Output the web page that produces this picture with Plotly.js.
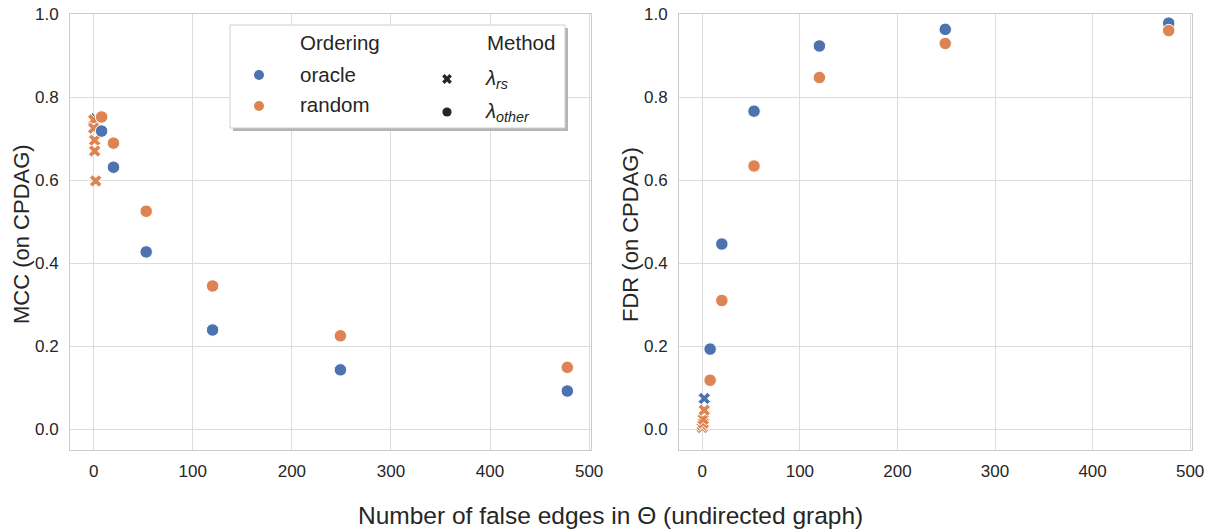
<!DOCTYPE html>
<html>
<head>
<meta charset="utf-8">
<script src="https://cdn.plot.ly/plotly-3.0.1.min.js"></script>
<style>html,body{margin:0;padding:0;background:#fff;}#chart{width:1219px;height:531px;}</style>
</head>
<body>
<div id="chart"></div>
<script>
// ---- data ----
const falseEdges = [8, 20, 53, 120, 249, 478];
const mccOracle = [0.718, 0.631, 0.427, 0.239, 0.143, 0.092];
const mccRandom = [0.752, 0.689, 0.525, 0.345, 0.225, 0.149];
const fdrOracle = [0.193, 0.446, 0.766, 0.923, 0.963, 0.978];
const fdrRandom = [0.118, 0.310, 0.634, 0.847, 0.929, 0.960];

const rsEdgesOracle = [2];
const mccRsOracle = [0.748];
const fdrRsOracle = [0.074];
const rsEdgesRandom = [0, 0, 1, 1, 2];
const mccRsRandom = [0.745, 0.725, 0.696, 0.670, 0.598];
const fdrRsRandom = [0.004, 0.010, 0.015, 0.024, 0.046];

const xTicks = [0, 100, 200, 300, 400, 500];
const yTicks = [0.0, 0.2, 0.4, 0.6, 0.8, 1.0];

const orderingLabels = ['oracle', 'random'];
const methodLabels = ['<i>λ</i><sub><i>rs</i></sub>', '<i>λ</i><sub><i>other</i></sub>'];

// ---- styles ----
const BLUE = '#4C72B0', ORANGE = '#DD8452', TXT = '#262626';
const W = 1219, H = 531;
const FONT = 'Liberation Sans, Arial, sans-serif';

function cross(x, y, color, xa, ya) {
  return {x: x, y: y, xaxis: xa, yaxis: ya, type: 'scatter', mode: 'markers', showlegend: false,
    marker: {symbol: 'x', size: 11, color: color, line: {color: '#ffffff', width: 1}}};
}
function dots(x, y, color, xa, ya) {
  return {x: x, y: y, xaxis: xa, yaxis: ya, type: 'scatter', mode: 'markers', showlegend: false,
    marker: {symbol: 'circle', size: 12.5, color: color, line: {color: '#ffffff', width: 1}}};
}

const traces = [
  cross(rsEdgesOracle, mccRsOracle, BLUE, 'x', 'y'),
  cross(rsEdgesRandom, mccRsRandom, ORANGE, 'x', 'y'),
  dots(falseEdges, mccOracle, BLUE, 'x', 'y'),
  dots(falseEdges, mccRandom, ORANGE, 'x', 'y'),
  cross(rsEdgesOracle, fdrRsOracle, BLUE, 'x2', 'y2'),
  cross(rsEdgesRandom, fdrRsRandom, ORANGE, 'x2', 'y2'),
  dots(falseEdges, fdrOracle, BLUE, 'x2', 'y2'),
  dots(falseEdges, fdrRandom, ORANGE, 'x2', 'y2')
];

const px = v => v / W;
const py = v => 1 - v / H;

function xAxis(d0, d1, anchor) {
  return {domain: [px(d0), px(d1)], range: [-23.9, 501.9], anchor: anchor,
    tickvals: xTicks, ticks: '', ticklabelstandoff: 6,
    showgrid: true, gridcolor: '#dcdcdc', gridwidth: 1, zeroline: false,
    showline: true, linecolor: '#cccccc', linewidth: 1, mirror: true,
    tickfont: {family: FONT, size: 17, color: TXT}};
}
function yAxis(anchor) {
  return {domain: [py(450), py(14)], range: [-0.05, 1.0], anchor: anchor,
    tickvals: yTicks, tickformat: '.1f', ticks: '', ticklabelstandoff: 7,
    showgrid: true, gridcolor: '#dcdcdc', gridwidth: 1, zeroline: false,
    showline: true, linecolor: '#cccccc', linewidth: 1, mirror: true,
    tickfont: {family: FONT, size: 17, color: TXT}};
}

// legend cross path (pixel-sized)
function crossPath(L, t) {
  const pts = [[t,t],[t,L],[-t,L],[-t,t],[-L,t],[-L,-t],[-t,-t],[-t,-L],[t,-L],[t,-t],[L,-t],[L,t]];
  const r = pts.map(([x, y]) => [(x - y) / Math.SQRT2, (x + y) / Math.SQRT2]);
  return 'M' + r.map(p => p[0].toFixed(2) + ',' + p[1].toFixed(2)).join('L') + 'Z';
}
function dotShape(cx, cy, r, color) {
  return {type: 'circle', xref: 'paper', yref: 'paper', xsizemode: 'pixel', ysizemode: 'pixel',
    xanchor: px(cx), yanchor: py(cy), x0: -r, x1: r, y0: -r, y1: r,
    fillcolor: color, line: {width: 0}, layer: 'above'};
}

const shapes = [
  {type: 'rect', xref: 'paper', yref: 'paper', x0: px(233), x1: px(568), y0: py(131), y1: py(28),
   fillcolor: '#b5b5b5', line: {width: 0}, layer: 'above'},
  {type: 'rect', xref: 'paper', yref: 'paper', x0: px(230), x1: px(565), y0: py(128), y1: py(25),
   fillcolor: '#ffffff', line: {color: '#d0d0d0', width: 1}, layer: 'above'},
  dotShape(259, 75, 5, BLUE),
  dotShape(259, 106, 5, ORANGE),
  {type: 'path', xref: 'paper', yref: 'paper', xsizemode: 'pixel', ysizemode: 'pixel',
   xanchor: px(447), yanchor: py(79), path: crossPath(5.2, 1.7),
   fillcolor: TXT, line: {width: 0}, layer: 'above'},
  dotShape(447, 112, 4.6, TXT)
];

function txt(text, x, y, size, extra) {
  return Object.assign({text: text, xref: 'paper', yref: 'paper', x: px(x), y: py(y),
    xanchor: 'left', yanchor: 'middle', showarrow: false,
    font: {family: FONT, size: size, color: TXT}}, extra || {});
}

const annotations = [
  txt('Ordering', 298, 42, 20.5),
  txt(orderingLabels[0], 298, 74, 20.5),
  txt(orderingLabels[1], 298, 104, 20.5),
  txt('Method', 485, 42, 20.5),
  txt(methodLabels[0], 483, 79, 20.5),
  txt(methodLabels[1], 483, 112, 20.5),
  txt('MCC (on CPDAG)', 22, 234, 22, {xanchor: 'center', textangle: -90}),
  txt('FDR (on CPDAG)', 631, 234, 22, {xanchor: 'center', textangle: -90}),
  txt('Number of false edges in Θ (undirected graph)', 610, 515, 24.5, {xanchor: 'center'})
];

const layout = {
  width: W, height: H,
  margin: {l: 0, r: 0, t: 0, b: 0, pad: 0},
  paper_bgcolor: '#ffffff', plot_bgcolor: '#ffffff',
  showlegend: false,
  font: {family: FONT, color: TXT},
  xaxis: xAxis(70, 591, 'y'),
  yaxis: yAxis('x'),
  xaxis2: xAxis(679, 1192, 'y2'),
  yaxis2: yAxis('x2'),
  shapes: shapes,
  annotations: annotations
};

Plotly.newPlot('chart', traces, layout, {displayModeBar: false, staticPlot: true});
</script>
</body>
</html>
